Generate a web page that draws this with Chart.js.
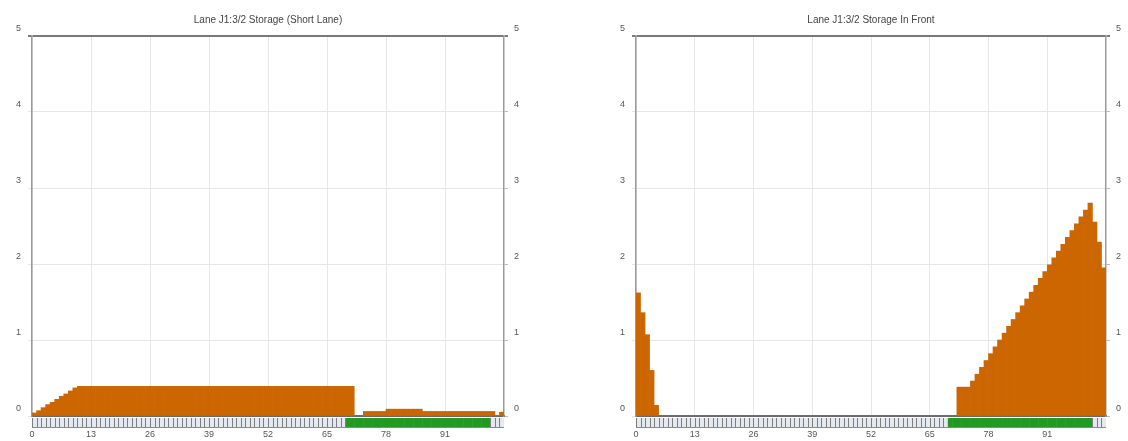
<!DOCTYPE html>
<html>
<head>
<meta charset="utf-8">
<script src="https://cdn.jsdelivr.net/npm/chart.js@4"></script>
<style>
  html, body { margin: 0; padding: 0; background: #fff; }
  #wrap { position: relative; width: 1128px; height: 441px; }
  .box { position: absolute; top: 0; width: 564px; height: 441px; }
</style>
</head>
<body>
<div id="wrap">
  <div class="box" style="left:0"><canvas id="shortLane"></canvas></div>
  <div class="box" style="left:564px"><canvas id="inFront"></canvas></div>
</div>
<script>
  // cycle seconds 0..103
  const categories = Array.from({ length: 104 }, function (_, i) { return String(i); });
  const tickLabels = [0, 13, 26, 39, 52, 65, 78, 91];
  const yTicks = [0, 1, 2, 3, 4, 5];

  const shortLaneTitle = 'Lane J1:3/2 Storage (Short Lane)';
  const inFrontTitle = 'Lane J1:3/2 Storage In Front';

  const shortLaneValues = [
    0.04, 0.07, 0.11, 0.15, 0.18, 0.22, 0.26, 0.29, 0.33, 0.37,
    0.39, 0.39, 0.39, 0.39, 0.39, 0.39, 0.39, 0.39, 0.39, 0.39,
    0.39, 0.39, 0.39, 0.39, 0.39, 0.39, 0.39, 0.39, 0.39, 0.39,
    0.39, 0.39, 0.39, 0.39, 0.39, 0.39, 0.39, 0.39, 0.39, 0.39,
    0.39, 0.39, 0.39, 0.39, 0.39, 0.39, 0.39, 0.39, 0.39, 0.39,
    0.39, 0.39, 0.39, 0.39, 0.39, 0.39, 0.39, 0.39, 0.39, 0.39,
    0.39, 0.39, 0.39, 0.39, 0.39, 0.39, 0.39, 0.39, 0.39, 0.39,
    0.39, 0, 0, 0.06, 0.06, 0.06, 0.06, 0.06, 0.09, 0.09,
    0.09, 0.09, 0.09, 0.09, 0.09, 0.09, 0.06, 0.06, 0.06, 0.06,
    0.06, 0.06, 0.06, 0.06, 0.06, 0.06, 0.06, 0.06, 0.06, 0.06,
    0.06, 0.06, 0.01, 0.05
  ];

  const inFrontValues = [
    1.62, 1.36, 1.07, 0.6, 0.14, 0, 0, 0, 0, 0,
    0, 0, 0, 0, 0, 0, 0, 0, 0, 0,
    0, 0, 0, 0, 0, 0, 0, 0, 0, 0,
    0, 0, 0, 0, 0, 0, 0, 0, 0, 0,
    0, 0, 0, 0, 0, 0, 0, 0, 0, 0,
    0, 0, 0, 0, 0, 0, 0, 0, 0, 0,
    0, 0, 0, 0, 0, 0, 0, 0, 0, 0,
    0, 0.38, 0.38, 0.38, 0.46, 0.55, 0.64, 0.73, 0.82, 0.91,
    1.00, 1.09, 1.18, 1.27, 1.36, 1.45, 1.54, 1.63, 1.72, 1.81,
    1.90, 1.99, 2.08, 2.17, 2.26, 2.35, 2.44, 2.53, 2.62, 2.71,
    2.80, 2.55, 2.29, 1.95
  ];

  // green phase in the signal strip (first and last second)
  const shortLaneGreen = [69, 100];
  const inFrontGreen = [69, 100];

  const FONT = "'Liberation Sans', Arial, sans-serif";
  const BAR = '#cc6600';

  // signal timing strip drawn under the plot, one cell per second
  const stripPlugin = {
    id: 'strip',
    afterDraw: function (chart, args, opts) {
      const ctx = chart.ctx;
      const area = chart.chartArea;
      const x = chart.scales.x;
      const top = area.bottom + 2;
      const h = 9;
      const w = x.getPixelForValue(1) - x.getPixelForValue(0);
      ctx.save();
      ctx.fillStyle = '#e3e9ef';
      ctx.fillRect(area.left, top, area.right - area.left, h);
      for (let i = 0; i < categories.length; i++) {
        const cx = x.getPixelForValue(i);
        const on = i >= opts.green[0] && i <= opts.green[1];
        if (on) {
          ctx.fillStyle = '#229a22';
          ctx.fillRect(cx - w / 2, top, w + 0.5, h);
        } else {
          ctx.strokeStyle = '#7c7c7c';
          ctx.lineWidth = 1;
          const lx = Math.round(cx - w / 2) + 0.5;
          ctx.beginPath();
          ctx.moveTo(lx, top);
          ctx.lineTo(lx, top + h);
          ctx.stroke();
        }
      }
      ctx.strokeStyle = '#8a8a8a';
      ctx.lineWidth = 1;
      ctx.beginPath();
      ctx.moveTo(area.left, top + h + 0.5);
      ctx.lineTo(area.right, top + h + 0.5);
      ctx.stroke();
      ctx.restore();
    }
  };

  function makeChart(canvasId, title, values, green, leftW, rightW) {
    const el = document.getElementById(canvasId);
    return new Chart(el, {
      type: 'bar',
      data: {
        labels: categories,
        datasets: [{
          data: values,
          backgroundColor: BAR,
          borderWidth: 0,
          barPercentage: 1,
          categoryPercentage: 1,
          xAxisID: 'x',
          yAxisID: 'y'
        }]
      },
      options: {
        responsive: true,
        maintainAspectRatio: false,
        animation: false,
        layout: { padding: 0 },
        scales: {
          x: {
            type: 'category',
            display: false,
            offset: true
          },
          xt: {
            type: 'linear',
            position: 'bottom',
            offset: false,
            min: 0,
            max: categories.length,
            afterFit: function (s) { s.height = 25; },
            afterBuildTicks: function (s) {
              s.ticks = tickLabels.map(function (v) { return { value: v }; });
            },
            ticks: {
              autoSkip: false,
              maxRotation: 0,
              padding: 13,
              color: '#555',
              font: { size: 9, family: FONT },
              callback: function (v) { return String(v); }
            },
            grid: { offset: false, color: '#e6e6e6', lineWidth: 1, drawTicks: false },
            border: { color: '#6a6a6a', width: 2 }
          },
          y: {
            position: 'left',
            min: 0,
            max: 5,
            afterFit: function (s) { s.width = leftW; },
            afterBuildTicks: function (s) {
              s.ticks = yTicks.map(function (v) { return { value: v }; });
            },
            ticks: {
              padding: 7,
              labelOffset: -7,
              color: '#555',
              font: { size: 9, family: FONT }
            },
            grid: {
              tickLength: 4,
              color: function (c) { return c.tick && c.tick.value === 5 ? '#7a7a7a' : '#e6e6e6'; },
              lineWidth: function (c) { return c.tick && c.tick.value === 5 ? 2 : 1; }
            },
            border: { color: '#9a9a9a', width: 1.5 }
          },
          yR: {
            position: 'right',
            min: 0,
            max: 5,
            afterFit: function (s) { s.width = rightW; },
            afterBuildTicks: function (s) {
              s.ticks = yTicks.map(function (v) { return { value: v }; });
            },
            ticks: {
              padding: 6,
              labelOffset: -7,
              color: '#555',
              font: { size: 9, family: FONT }
            },
            grid: {
              tickLength: 4,
              drawOnChartArea: false,
              color: function (c) { return c.tick && c.tick.value === 5 ? '#7a7a7a' : '#bdbdbd'; },
              lineWidth: function (c) { return c.tick && c.tick.value === 5 ? 2 : 1; }
            },
            border: { color: '#9a9a9a', width: 1.5 }
          }
        },
        plugins: {
          legend: { display: false },
          tooltip: { enabled: false },
          title: {
            display: true,
            text: title,
            fullSize: false,
            color: '#444',
            font: { size: 10, weight: 'normal', family: FONT },
            padding: { top: 14, bottom: 10 }
          },
          strip: { green: green }
        }
      },
      plugins: [stripPlugin]
    });
  }

  makeChart('shortLane', shortLaneTitle, shortLaneValues, shortLaneGreen, 32, 60);
  makeChart('inFront', inFrontTitle, inFrontValues, inFrontGreen, 72, 22);
</script>
</body>
</html>
